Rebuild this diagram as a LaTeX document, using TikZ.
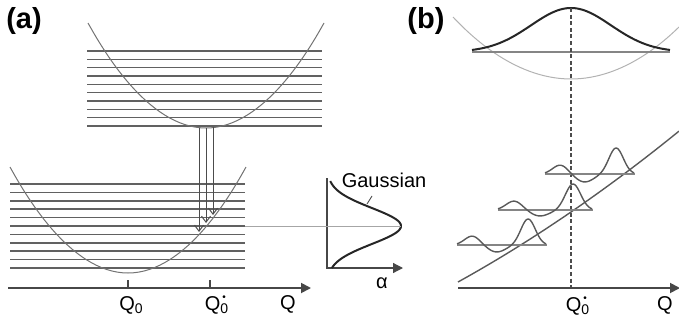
\documentclass[tikz,border=0pt]{standalone}
\usepackage{fontspec}
\setmainfont{Liberation Sans}
\usetikzlibrary{arrows.meta}
\newcommand{\stardot}{\rlap{\hspace{1pt}\raisebox{5.4pt}{\fontsize{5}{5}\selectfont\textbullet}}}
\tikzset{level/.style={draw=black!62, line width=0.8pt}, pes/.style={draw=black!55, line width=0.5pt}, axis/.style={-{Triangle[length=5pt,width=5pt]}, draw=black!72, line width=0.9pt}, axtick/.style={draw=black!72, line width=0.6pt}, transition/.style={-{Straight Barb[length=3pt,width=4.5pt]}, draw=black!70, line width=0.5pt}, qlabel/.style={font=\fontsize{10}{12}\selectfont, inner sep=0pt}, panel/.style={font=\fontsize{14.5}{17}\selectfont\bfseries, inner sep=0pt}, gauss/.style={draw=black!85, line width=1pt}, wave/.style={draw=black!65, line width=0.7pt}, levelb/.style={draw=black!48, line width=0.85pt}}

\begin{document}
\begin{tikzpicture}[x=0.5pt, y=-0.5pt]
\useasboundingbox (0,0) rectangle (679,321);
\node[panel] (pa) at (24,21) {(a)};
\node[panel] (pb) at (426,21) {(b)};
\foreach \k in {0,...,9} {\draw[level] (87,51+\k*8.33) -- (322,51+\k*8.33);}
\draw[pes] (88,23) parabola bend (206,128) (324,23);
\foreach \k in {0,...,10} {\draw[level] (10,184+\k*8.4) -- (245,184+\k*8.4);}
\draw[pes] (10,167) parabola bend (128,273) (246,167);
\foreach \lx/\ya/\yb [count=\i] in {199/128/232, 206/128/223, 213/127/215} {\coordinate (up\i) at (\lx,\ya); \coordinate (lo\i) at (\lx,\yb); \draw[transition] (up\i) -- (lo\i);}
\coordinate (oa) at (8,288);
\coordinate (ea) at (311,288);
\draw[axis] (oa) -- (ea);
\draw[axtick] (128,280) -- (128,288);
\draw[axtick] (210,280) -- (210,288);
\node[qlabel] (q0a) at (131.5,305) {Q\textsubscript{0}};
\node[qlabel] (q0sa) at (217,305) {Q\stardot\textsubscript{0}};
\node[qlabel] (qa) at (288,304) {Q};
\coordinate (gtop) at (327,178);
\coordinate (gorg) at (327,268);
\coordinate (galpha) at (403,268);
\draw[axis, line width=0.6pt] (gtop) -- (gorg) -- (galpha);
\draw[gauss] plot[variable=\t, domain=181:268, samples=60] ({327+74*exp(-((\t-226)/18)^2/2)}, \t);
\coordinate (lvl) at (245,226);
\coordinate (gpeak) at (401,226);
\draw[black!35, line width=0.4pt] (lvl) -- (gpeak);
\node[qlabel] (alpha) at (382,283) {α};
\node[qlabel] (glabel) at (384,180) {Gaussian};
\coordinate (gptA) at (372,196);
\coordinate (gptB) at (367,204);
\draw[black!70, line width=0.45pt] (gptA) -- (gptB);
\draw[pes, draw=black!30] (453,17) parabola bend (571,79) (679,27);
\draw[levelb] (472,52) -- (670,52);
\draw[gauss] plot[variable=\t, domain=472:670, samples=80] (\t, {52-44*exp(-((\t-571)/40)^2/2)});
\coordinate (peak) at (571,8);
\coordinate (q0b) at (571,288);
\draw[draw=black!70, line width=0.8pt, dash pattern=on 2pt off 1.3pt] (peak) -- (q0b);
\coordinate (ob) at (458,288);
\coordinate (eb) at (680,288);
\draw[axis] (ob) -- (eb);
\draw[wave] plot[variable=\t, domain=458:679, samples=60] (\t, {282-0.5534*(\t-458)-(0.02419*(\t-458))^2});
\foreach \lx/\ly/\len/\dip in {457/245/90/7, 498/210/95/6, 545/174/90/8} {\draw[levelb] (\lx,\ly) -- ++(\len,0); \draw[wave] plot[variable=\s, domain=0:0.99, samples=80] ({\lx+\len*\s}, {\ly-9*exp(-((\s-0.17)/0.085)^2/2)+\dip*exp(-((\s-0.44)/0.1)^2/2)-26*exp(-((\s-0.79)/0.08)^2/2)});}
\node[qlabel] (q0sb) at (578,306) {Q\stardot\textsubscript{0}};
\node[qlabel] (qb) at (665,305) {Q};
\end{tikzpicture}
\end{document}
